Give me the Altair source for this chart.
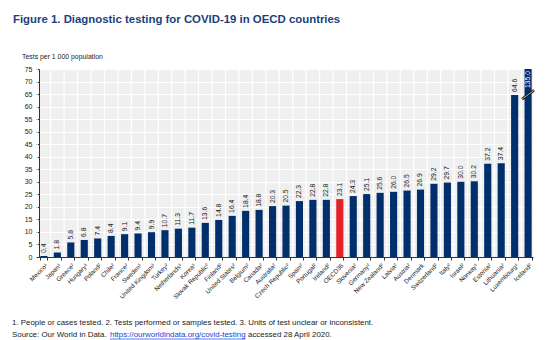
import altair as alt
import pandas as pd

countries = ["Mexico¹", "Japan¹", "Greece²", "Hungary¹", "Poland²", "Chile²", "France²",
             "Sweden¹", "United Kingdom¹", "Turkey²", "Netherlands¹", "Korea¹",
             "Slovak Republic²", "Finland²", "United States²", "Belgium²", "Canada²",
             "Australia²", "Czech Republic²", "Spain²", "Portugal²", "Ireland²", "OECD36",
             "Slovenia²", "Germany²", "New Zealand²", "Latvia²", "Austria²", "Denmark",
             "Switzerland²", "Italy²", "Israel²", "Norway¹", "Estonia²", "Lithuania²",
             "Luxembourg¹", "Iceland²"]
values = [0.4, 1.8, 5.8, 6.8, 7.4, 8.4, 9.1, 9.4, 9.9, 10.7, 11.3, 11.7, 13.6, 14.8,
          16.4, 18.4, 18.8, 20.3, 20.5, 22.3, 22.8, 22.8, 23.1, 24.3, 25.1, 25.6, 26.0,
          26.5, 26.9, 29.2, 29.7, 30.0, 30.2, 37.2, 37.4, 64.6, 135.0]
highlight = "OECD36"
y_ticks = list(range(0, 80, 5))
Y_MAX = 75

title_text = "Figure 1. Diagnostic testing for COVID-19 in OECD countries"
unit_text = "Tests per 1 000 population"
note_text = "1. People or cases tested. 2. Tests performed or samples tested. 3. Units of test unclear or inconsistent."
src_a = "Source: Our World in Data."
src_url = "https://ourworldindata.org/covid-testing"
src_b = "accessed 28 April 2020."

NAVY = "#002f6c"
RED = "#e3232a"
FONT = "Liberation Sans, Arial"

df = pd.DataFrame({"country": countries, "value": values})
df["label"] = [f"{v:.1f}" for v in values]
df["hl"] = [c == highlight for c in countries]

W, H = 494, 188
P_IN, P_OUT = 0.47, 0.1
STEP = W / (len(countries) - P_IN + 2 * P_OUT)

base = alt.Chart(df).transform_calculate(
    plotted=f"min(datum.value, {Y_MAX})"
)
xscale = alt.Scale(paddingInner=P_IN, paddingOuter=P_OUT)
yscale = alt.Scale(domain=[0, Y_MAX], nice=False)

xaxis = alt.Axis(title=None, labelAngle=-45, labelAlign="right",
                 labelBaseline="top", labelFont=FONT, labelFontSize=6.3,
                 labelColor="#222", labelPadding=2, tickSize=3,
                 tickColor="#333", domainColor="#333", grid=False,
                 labelOverlap=False, tickBand="extent")
yaxis = alt.Axis(title=None, values=y_ticks, labelFont=FONT,
                 labelFontSize=7, labelColor="#222", tickSize=3,
                 tickColor="#333", domainColor="#333", labelPadding=4,
                 labelOverlap=False, gridColor="white", gridWidth=1.2)


def X():
    return alt.X("country:N", sort=countries, scale=xscale, axis=xaxis)


def Y(field):
    return alt.Y(field, scale=yscale, axis=yaxis)


vgrid = base.mark_rule(color="white", strokeWidth=1.2, xOffset=-STEP / 2).encode(
    x=X(), y=alt.value(0), y2=alt.value(H))

bars = base.mark_bar().encode(
    x=X(), y=Y("plotted:Q"),
    color=alt.condition(alt.datum.hl, alt.value(RED), alt.value(NAVY)),
)

labels_out = base.transform_filter(f"datum.value <= {Y_MAX}").mark_text(
    angle=270, align="left", baseline="middle", font=FONT, fontSize=6.8,
    color="#222", dx=3
).encode(x=X(), y=Y("plotted:Q"), text="label:N")

labels_in = base.transform_filter(f"datum.value > {Y_MAX}").mark_text(
    angle=270, align="right", baseline="middle", font=FONT, fontSize=6.8,
    color="white", dx=-2
).encode(x=X(), y=Y("plotted:Q"), text="label:N")

brk = pd.DataFrame({"country": [countries[-1]], "plotted": [63.0], "hi": [66.5]})
break_black = alt.Chart(brk).mark_rule(color="#111", strokeWidth=2.6, xOffset=-6, x2Offset=6).encode(
    x=X(), x2="country:N", y=Y("plotted:Q"), y2="hi:Q")
break_white = alt.Chart(brk).mark_rule(color="white", strokeWidth=0.7, xOffset=-6, x2Offset=6).encode(
    x=X(), x2="country:N", y=Y("plotted:Q"), y2="hi:Q")

one = pd.DataFrame({"a": [0]})
OX, OY = 39, 69


def txt(s, x, y, size, color="#222", weight="normal"):
    return alt.Chart(one).mark_text(align="left", baseline="middle", fontSize=size,
                                    color=color, fontWeight=weight, font=FONT).encode(
        x=alt.value(x - OX), y=alt.value(y - OY), text=alt.value(s))


title = txt(title_text, 13, 20, 11.4, color="#1b3f7e", weight="bold")
unit = txt(unit_text, 22, 57, 6.9)
note = txt(note_text, 12, 323, 7.9)
s1 = txt(src_a, 12, 335, 7.9)
s2 = txt(src_url, 110, 335, 7.9, color="#1a3fd0")
s3 = txt(src_b, 248, 335, 7.9)
underline = alt.Chart(one).mark_rule(color="#1a3fd0", strokeWidth=0.7).encode(
    x=alt.value(110 - OX), x2=alt.value(245.5 - OX), y=alt.value(339 - OY))

chart = alt.layer(vgrid, bars, labels_out, labels_in, break_black, break_white,
                  title, unit, note, s1, s2, s3, underline).properties(
    width=W, height=H,
    autosize=alt.AutoSizeParams(type="none"),
    padding={"left": OX, "top": OY, "right": 560 - OX - W, "bottom": 340 - OY - H},
    background="white",
).configure_view(fill="#efefef", stroke=None)

chart.save("out.html", embed_options={"renderer": "svg", "actions": False})
